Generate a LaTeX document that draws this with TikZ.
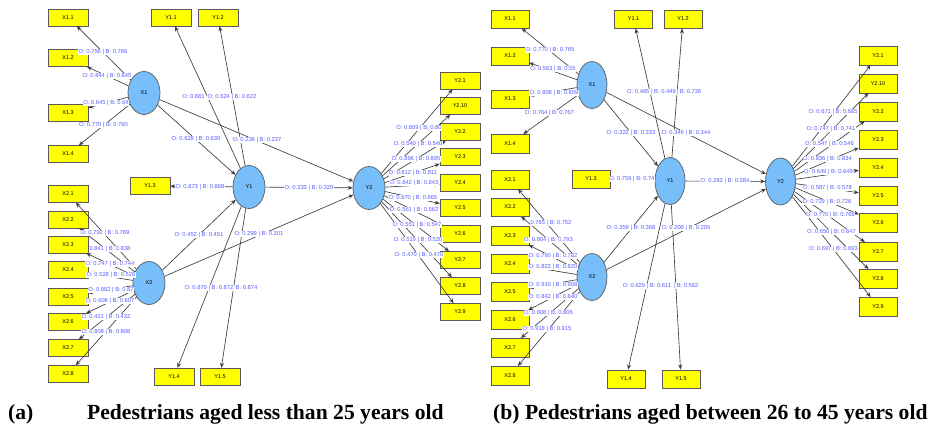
\documentclass[tikz,border=0pt]{standalone}
\usepackage{fontspec}
\setmainfont{Liberation Serif}
\newfontfamily\sansf{Liberation Sans}
\usetikzlibrary{arrows.meta,shapes.geometric}
\definecolor{boxyellow}{RGB}{255,255,0}
\definecolor{latblue}{RGB}{120,190,250}
\definecolor{lblblue}{RGB}{90,90,255}
\definecolor{edgegray}{RGB}{60,60,60}
\begin{document}
\begin{tikzpicture}[x=1pt,y=-1pt,
  indA/.style={draw=black!65, fill=boxyellow, minimum width=40pt, minimum height=17pt, inner sep=0pt, font=\sansf\fontsize{5.5}{6}\selectfont},
  indB/.style={indA, minimum width=38pt, minimum height=18.5pt},
  latA/.style={ellipse, draw=black!65, line width=0.7pt, fill=latblue, minimum width=32pt, minimum height=43pt, inner sep=0pt, font=\sansf\fontsize{5.5}{6}\selectfont},
  latB/.style={latA, minimum width=30pt, minimum height=47pt},
  lbl/.style={fill=white, text=lblblue, inner sep=0.4pt, font=\sansf\fontsize{5.8}{6}\selectfont},
  arr/.style={draw=edgegray, line width=0.65pt, -{Stealth[length=5pt,width=4pt]}},
  captext/.style={anchor=base west, inner sep=0pt, font=\bfseries\fontsize{21.6}{24}\selectfont}]
\useasboundingbox (0,0) rectangle (934,425);

% ================= panel (a) =================
\node[latA] (aX1) at (144,93) {X1};
\node[latA] (aY1) at (249,187) {Y1};
\node[latA] (aX2) at (149,283) {X2};
\node[latA] (aY2) at (369,188) {Y2};

\foreach \n/\y/\t in {X11/17.5/X1.1, X12/58/X1.2, X13/113/X1.3, X14/154/X1.4,
  X21/194/X2.1, X22/219.5/X2.2, X23/244.5/X2.3, X24/270/X2.4, X25/296.5/X2.5,
  X26/322/X2.6, X27/348/X2.7, X28/374/X2.8}
  \node[indA] (a\n) at (68,\y) {\t};
\node[indA] (aY11) at (171,17.5) {Y1.1};
\node[indA] (aY12) at (218,17.5) {Y1.2};
\node[indA] (aY13) at (150,186) {Y1.3};
\node[indA] (aY14) at (174,376.5) {Y1.4};
\node[indA] (aY15) at (220,376.5) {Y1.5};
\foreach \n/\y/\t in {a/80.5/Y2.1, b/106/Y2.10, c/132/Y2.2, d/157/Y2.3, e/183/Y2.4,
  f/208/Y2.5, g/234/Y2.6, h/260/Y2.7, i/286/Y2.8, j/312/Y2.9}
  \node[indA] (aY2\n) at (460,\y) {\t};

\foreach \n in {X11,X12,X13,X14} \draw[arr] (aX1) -- (a\n);
\foreach \n in {X21,X22,X23,X24,X25,X26,X27,X28} \draw[arr] (aX2) -- (a\n);
\foreach \n in {Y11,Y12,Y13,Y14,Y15} \draw[arr] (aY1) -- (a\n);
\foreach \n in {a,b,c,d,e,f,g,h,i,j} \draw[arr] (aY2) -- (aY2\n);
\draw[arr] (aX1) -- (aY1);
\draw[arr] (aX1) -- (aY2);
\draw[arr] (aY1) -- (aY2);
\draw[arr] (aX2) -- (aY1);
\draw[arr] (aX2) -- (aY2);

\node[lbl] at (103,52) {O: 0.756 | B: 0.766};
\node[lbl] at (107,76) {O: 0.844 | B: 0.845};
\node[lbl] at (106,103) {O: 0.645 | B: 0.64};
\node[lbl] at (103.5,125) {O: 0.770 | B: 0.760};
\node[lbl] at (193.5,97) {O: 0.681};
\node[lbl] at (232,97) {O: 0.624 | B: 0.622};
\node[lbl] at (196,139) {O: 0.628 | B: 0.630};
\node[lbl] at (257,140) {O: 0.236 | B: 0.237};
\node[lbl] at (200,187) {O: 0.873 | B: 0.868};
\node[lbl] at (309,188) {O: 0.333 | B: 0.329};
\node[lbl] at (199,235) {O: 0.452 | B: 0.451};
\node[lbl] at (259,234) {O: 0.299 | B: 0.301};
\node[lbl] at (246.5,288) {B: 0.874};
\node[lbl] at (209,288) {O: 0.870 | B: 0.872};
\node[lbl] at (105,233) {O: 0.792 | B: 0.789};
\node[lbl] at (110,249) {0.841 | B: 0.838};
\node[lbl] at (110,264) {O: 0.747 | B: 0.744};
\node[lbl] at (111,275) {O: 0.528 | B: 0.526};
\node[lbl] at (111,290) {O: 0.882 | B: 0.87};
\node[lbl] at (110,301) {O: 0.608 | B: 0.607};
\node[lbl] at (106,317) {O: 0.421 | B: 0.432};
\node[lbl] at (106,332) {O: 0.808 | B: 0.808};
\node[lbl] at (419,128) {O: 0.809 | B: 0.80};
\node[lbl] at (418,144) {O: 0.540 | B: 0.540};
\node[lbl] at (416,159) {O: 0.896 | B: 0.895};
\node[lbl] at (413,173) {O: 0.812 | B: 0.811};
\node[lbl] at (414,183) {O: 0.842 | B: 0.843};
\node[lbl] at (413,198) {O: 0.670 | B: 0.665};
\node[lbl] at (414,210) {O: 0.561 | B: 0.562};
\node[lbl] at (417,225) {O: 0.551 | B: 0.547};
\node[lbl] at (418,240) {O: 0.519 | B: 0.520};
\node[lbl] at (419,255) {O: 0.470 | B: 0.470};

% ================= panel (b) =================
\node[latB] (bX1) at (592,85) {X1};
\node[latB] (bY1) at (670,181) {Y1};
\node[latB] (bX2) at (592,277) {X2};
\node[latB] (bY2) at (780.5,181.5) {Y2};

\foreach \n/\y/\t in {X11/19/X1.1, X12/56/X1.2, X13/99/X1.3, X14/143.5/X1.4,
  X21/179.5/X2.1, X22/207/X2.2, X23/235.5/X2.3, X24/263.5/X2.4, X25/291.5/X2.5,
  X26/319.5/X2.6, X27/347.5/X2.7, X28/375.5/X2.8}
  \node[indB] (b\n) at (510,\y) {\t};
\node[indB] (bY11) at (633.5,19) {Y1.1};
\node[indB] (bY12) at (683,19) {Y1.2};
\node[indB] (bY13) at (591,179) {Y1.3};
\node[indB] (bY14) at (626,379) {Y1.4};
\node[indB] (bY15) at (681,379) {Y1.5};
\foreach \n/\y/\t in {a/55.5/Y2.1, b/83.5/Y2.10, c/111.5/Y2.2, d/139.5/Y2.3, e/167.5/Y2.4,
  f/195.5/Y2.5, g/222.5/Y2.6, h/251.5/Y2.7, i/278.5/Y2.8, j/306.5/Y2.9}
  \node[indB] (bY2\n) at (878,\y) {\t};

\foreach \n in {X11,X12,X13,X14} \draw[arr] (bX1) -- (b\n);
\foreach \n in {X21,X22,X23,X24,X25,X26,X27,X28} \draw[arr] (bX2) -- (b\n);
\foreach \n in {Y11,Y12,Y13,Y14,Y15} \draw[arr] (bY1) -- (b\n);
\foreach \n in {a,b,c,d,e,f,g,h,i,j} \draw[arr] (bY2) -- (bY2\n);
\draw[arr] (bX1) -- (bY1);
\draw[arr] (bX1) -- (bY2);
\draw[arr] (bY1) -- (bY2);
\draw[arr] (bX2) -- (bY1);
\draw[arr] (bX2) -- (bY2);

\node[lbl] at (550,50) {O: 0.770 | B: 0.765};
\node[lbl] at (553,69) {O: 0.563 | B: 0.55};
\node[lbl] at (554,93) {O: 0.808 | B: 0.809};
\node[lbl] at (549.5,113) {O: 0.764 | B: 0.767};
\node[lbl] at (689,92) {| B: 0.736};
\node[lbl] at (651.5,92) {O: 0.465 | B: 0.449};
\node[lbl] at (631,133) {O: 0.322 | B: 0.333};
\node[lbl] at (686,133) {O: 0.349 | B: 0.344};
\node[lbl] at (632,179) {O: 0.759 | B: 0.74};
\node[lbl] at (725,181) {O: 0.283 | B: 0.284};
\node[lbl] at (631,228) {O: 0.359 | B: 0.368};
\node[lbl] at (686,228) {O: 0.209 | B: 0.205};
\node[lbl] at (686,286) {| B: 0.562};
\node[lbl] at (647,286) {O: 0.629 | B: 0.611};
\node[lbl] at (551,223) {0.765 | B: 0.752};
\node[lbl] at (548.5,240) {O: 0.804 | B: 0.793};
\node[lbl] at (553,256) {O: 0.790 | B: 0.782};
\node[lbl] at (553,267) {O: 0.822 | B: 0.820};
\node[lbl] at (553,285) {O: 0.910 | B: 0.908};
\node[lbl] at (553,297) {O: 0.842 | B: 0.840};
\node[lbl] at (548.5,313) {O: 0.808 | B: 0.806};
\node[lbl] at (547,329) {O: 0.918 | B: 0.915};
\node[lbl] at (833,112) {O: 0.671 | B: 0.665};
\node[lbl] at (831,129) {O: 0.747 | B: 0.741};
\node[lbl] at (829.5,144) {O: 0.547 | B: 0.546};
\node[lbl] at (827.5,159) {O: 0.836 | B: 0.834};
\node[lbl] at (828.5,172) {O: 0.649 | B: 0.645};
\node[lbl] at (827.5,188) {O: 0.587 | B: 0.578};
\node[lbl] at (827,202) {O: 0.729 | B: 0.726};
\node[lbl] at (830.5,215) {O: 0.770 | B: 0.768};
\node[lbl] at (831.5,232) {O: 0.650 | B: 0.647};
\node[lbl] at (833.5,249) {O: 0.697 | B: 0.693};

% ================= captions =================
\node[captext] (capa) at (8,419) {(a)};
\node[captext] (capat) at (87,419) {Pedestrians aged less than 25 years old};
\node[captext] (capb) at (493,419) {(b) Pedestrians aged between 26 to 45 years old};
\end{tikzpicture}
\end{document}
